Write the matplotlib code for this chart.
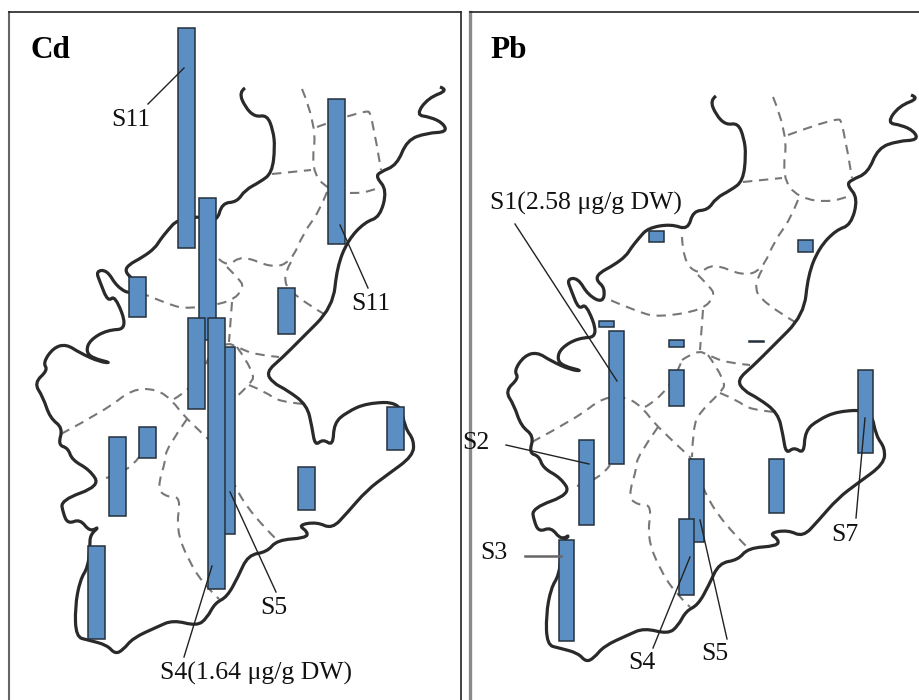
import numpy as np
import matplotlib
matplotlib.use("Agg")
import matplotlib.pyplot as plt
from matplotlib.path import Path
from matplotlib.patches import PathPatch

plt.rcParams['font.family'] = ['Liberation Serif', 'DejaVu Serif']

# Map geometry in Cd-panel image coordinates
coast = [(245,88),(239,92),(245,107),(255,117),(267,115),(273,130),(275,147),(272,173),(260,182),(245,190),
         (237,202),(222,203),(217,222),(200,216),(177,220),(168,230),(160,240),(155,248),(143,257),(128,265),
         (125,272),(134,280),(132,295),(117,287),(107,270),(96,271),(100,282),(108,302),(115,295),(128,329),
         (107,330),(90,340),(86,351),(92,358),(112,363),(100,362),(80,353),(66,344),(53,348),(43,363),(48,370),
         (34,383),(43,397),(50,418),(63,428),(58,445),(68,448),(72,460),(90,470),(100,486),(61,500),(63,513),
         (68,524),(80,519),(90,532),(100,526),(90,535),(90,547),(88,567),(80,580),(75,607),(76,637),(88,640),
         (107,645),(115,654),(123,650),(133,638),(157,627),(173,620),(197,626),(207,618),(215,603),(227,597),
         (238,577),(248,555),(267,552),(277,540),(306,538),(308,532),(298,525),(317,522),(332,529),(347,513),
         (367,490),(387,475),(413,456),(414,440),(405,428),(400,402),(367,403),(347,412),(334,423),(333,446),
         (323,439),(315,446),(312,427),(307,405),(287,390),(273,383),(266,372),(282,358),(300,340),(333,307),
         (337,267),(348,240),(365,222),(380,217),(387,190),(376,177),(380,172),(397,165),(407,140),(427,133),
         (447,132),(443,123),(430,117),(416,115),(428,98),(449,90),(440,87)]
borders = [
    [(302,89),(317,125),(311,169),(327,190),(362,195),(381,187)],
    [(317,127),(366,109),(372,115),(381,170)],
    [(272,174),(311,170)],
    [(327,192),(319,212),(304,232),(291,262),(272,268),(242,255),(227,267),(212,252),(211,229)],
    [(227,267),(239,279),(244,287),(232,302),(189,309),(169,305),(132,289)],
    [(291,262),(282,277),(292,295),(324,314)],
    [(232,302),(229,342)],
    [(211,352),(226,342),(237,347),(256,355),(279,357)],
    [(61,434),(106,410),(132,389),(156,389),(172,400),(186,419),(219,449)],
    [(174,399),(199,385),(211,352)],
    [(237,347),(256,374),(249,385),(229,404),(222,419),(221,449)],
    [(249,385),(266,392),(279,402),(304,404)],
    [(187,419),(166,449),(166,459),(157,489),(167,497),(181,497),(176,529),(189,562),(206,587),(219,599)],
    [(219,449),(232,482),(252,515),(276,539)],
    [(106,478),(129,472),(139,457)],
]
pb_map_shift = (471, 8)

# Cd sites: centre x, base y, concentration (ug/g DW)
cd_x = [186.5, 207, 137, 196.5, 336.5, 286.5, 117, 147, 96.5, 306.5, 395.5, 226.5, 216.5]
cd_base = [248, 340, 317, 409, 244, 334, 516, 458, 639, 510, 450, 534, 589]
cd_values = [1.33, 0.86, 0.24, 0.55, 0.88, 0.28, 0.48, 0.19, 0.56, 0.26, 0.26, 1.13, 1.64]
cd_px_per_unit = 271 / 1.64

# Pb sites
pb_x = [616.5, 606.5, 656.5, 805.5, 676.5, 756, 676, 586.5, 566.5, 696, 776, 865.5, 686]
pb_base = [464, 327, 242, 252, 347, 342, 406, 525, 641, 542, 513, 453, 595]
pb_values = [2.58, 0.12, 0.21, 0.23, 0.14, 0.02, 0.70, 1.65, 1.96, 1.61, 1.05, 1.61, 1.47]
pb_px_per_unit = 133 / 2.58

# Text labels and their leaders
cd_labels = [("S11", 131, 120), ("S11", 371, 304), ("S5", 274, 608), ("S4(1.64 μg/g DW)", 256, 673)]
cd_leaders = [((148,104),(184,68)), ((340,225),(368,288)), ((230,492),(276,592)), ((212,566),(184,657))]
pb_labels = [("S1(2.58 μg/g DW)", 586, 203), ("S2", 476, 443), ("S3", 494, 553),
             ("S4", 642, 663), ("S5", 715, 654), ("S7", 845, 535)]
pb_leaders = [((515,224),(617,381)), ((506,445),(589,464)), ((653,648),(690,557)),
              ((727,639),(700,520)), ((856,518),(865,418))]
pb_s3_leader = ((525,556),(561,556))

BLUE = "#5b8fc4"
EDGE = "#25303c"

fig = plt.figure(figsize=(9.19, 7.0), dpi=100)
ax = fig.add_axes([0, 0, 1, 1])
ax.set_xlim(0, 919)
ax.set_ylim(700, 0)
ax.axis("off")


def curve(points, dx, dy):
    """Smooth quadratic path using the given points as control points."""
    p = np.array(points, float) + (dx, dy)
    if len(p) == 2:
        return Path(p)
    verts, codes = [p[0]], [Path.MOVETO]
    for i in range(1, len(p) - 1):
        end = p[i + 1] if i == len(p) - 2 else (p[i] + p[i + 1]) / 2
        verts += [p[i], end]
        codes += [Path.CURVE3, Path.CURVE3]
    return Path(verts, codes)


def draw_map(dx, dy):
    ax.add_patch(PathPatch(curve(coast, dx, dy), fill=False, edgecolor="#2a2a2a", lw=2.3,
                           joinstyle="round", zorder=2))
    for b in borders:
        ax.add_patch(PathPatch(curve(b, dx, dy), fill=False, edgecolor="#777777", lw=1.5,
                               linestyle=(0, (4.5, 3.2)), zorder=1))


def draw_bars(xs, bases, values, scale, width):
    for i, (x, b, v) in enumerate(zip(xs, bases, values)):
        ax.bar(x, -v * scale, bottom=b, width=width, color=BLUE, edgecolor=EDGE, lw=1.1, zorder=3 + i * 0.01)


def draw_labels(labels, leaders):
    for (p, q) in leaders:
        ax.plot([p[0], q[0]], [p[1], q[1]], color="#222222", lw=1.0, zorder=5)
    for t, x, y in labels:
        ax.text(x, y, t, fontsize=18.5, ha="center", va="center", color="#111111", zorder=6)


# Panel frames
ax.plot([9, 9], [700, 12], color="#666666", lw=1.5, zorder=0)
ax.plot([9, 461], [12, 12], color="#222222", lw=1.2, zorder=0)
ax.plot([461, 461], [12, 700], color="#222222", lw=1.2, zorder=0)
ax.plot([470, 470], [12, 700], color="#8a8a8a", lw=2.4, zorder=0)
ax.plot([470, 919], [12, 12], color="#222222", lw=1.2, zorder=0)

draw_map(0, 0)
draw_map(*pb_map_shift)
draw_bars(cd_x, cd_base, cd_values, cd_px_per_unit, 17)
draw_bars(pb_x, pb_base, pb_values, pb_px_per_unit, 15)
draw_labels(cd_labels, cd_leaders)
draw_labels(pb_labels, pb_leaders)
ax.plot([pb_s3_leader[0][0], pb_s3_leader[1][0]], [pb_s3_leader[0][1], pb_s3_leader[1][1]],
        color="#666666", lw=1.8, zorder=5)

ax.text(30, 50, "Cd", fontsize=22.5, fontweight="bold", ha="left", va="center", color="black", zorder=6)
ax.text(490, 50, "Pb", fontsize=22.5, fontweight="bold", ha="left", va="center", color="black", zorder=6)

fig.savefig("out.png", dpi=100, facecolor="white")
